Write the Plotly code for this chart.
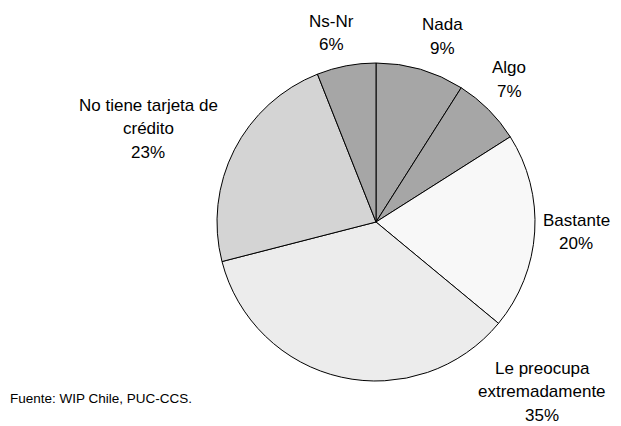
import plotly.graph_objects as go

# Survey answers and their shares (%)
categories = ["Nada", "Algo", "Bastante", "Le preocupa extremadamente",
              "No tiene tarjeta de crédito", "Ns-Nr"]
label_lines = [["Nada"], ["Algo"], ["Bastante"], ["Le preocupa", "extremadamente"],
               ["No tiene tarjeta de", "crédito"], ["Ns-Nr"]]
shares = [9, 7, 20, 35, 23, 6]
slice_colors = ["#a6a6a6", "#a6a6a6", "#f8f8f8", "#ececec", "#d4d4d4", "#a6a6a6"]

W, H = 621, 426
FONT = "Liberation Sans, Arial, sans-serif"

# Pie placement (pixels)
cx, cy, r = 376, 222, 159

# Label anchor (centre of first line, pixels) for each category
label_pos = [(442, 25), (509, 68), (576, 220), (542, 368), (148, 105), (331, 21)]
line_gap = 23.5

fig = go.Figure(go.Pie(
    labels=categories,
    values=shares,
    sort=False,
    direction="clockwise",
    rotation=0,
    marker=dict(colors=slice_colors, line=dict(color="#000000", width=1)),
    textinfo="none",
    hoverinfo="label+percent",
    showlegend=False,
    domain=dict(x=[(cx - r) / W, (cx + r) / W],
                y=[(H - cy - r) / H, (H - cy + r) / H]),
))

annotations = []
for lines, val, (px, py) in zip(label_lines, shares, label_pos):
    for i, txt in enumerate(lines + [f"{val}%"]):
        annotations.append(dict(
            x=px / W, y=1 - (py + i * line_gap) / H, xref="paper", yref="paper",
            text=txt, showarrow=False, xanchor="center", yanchor="middle",
            font=dict(family=FONT, size=17, color="#000000"),
        ))

annotations.append(dict(
    x=8 / W, y=1 - 398 / H, xref="paper", yref="paper",
    text="Fuente: WIP Chile, PUC-CCS.", showarrow=False,
    xanchor="left", yanchor="middle",
    font=dict(family=FONT, size=13.5, color="#000000"),
))

fig.update_layout(
    width=W, height=H,
    margin=dict(l=0, r=0, t=0, b=0),
    paper_bgcolor="#ffffff",
    plot_bgcolor="#ffffff",
    annotations=annotations,
)

fig.write_html("out.html")
